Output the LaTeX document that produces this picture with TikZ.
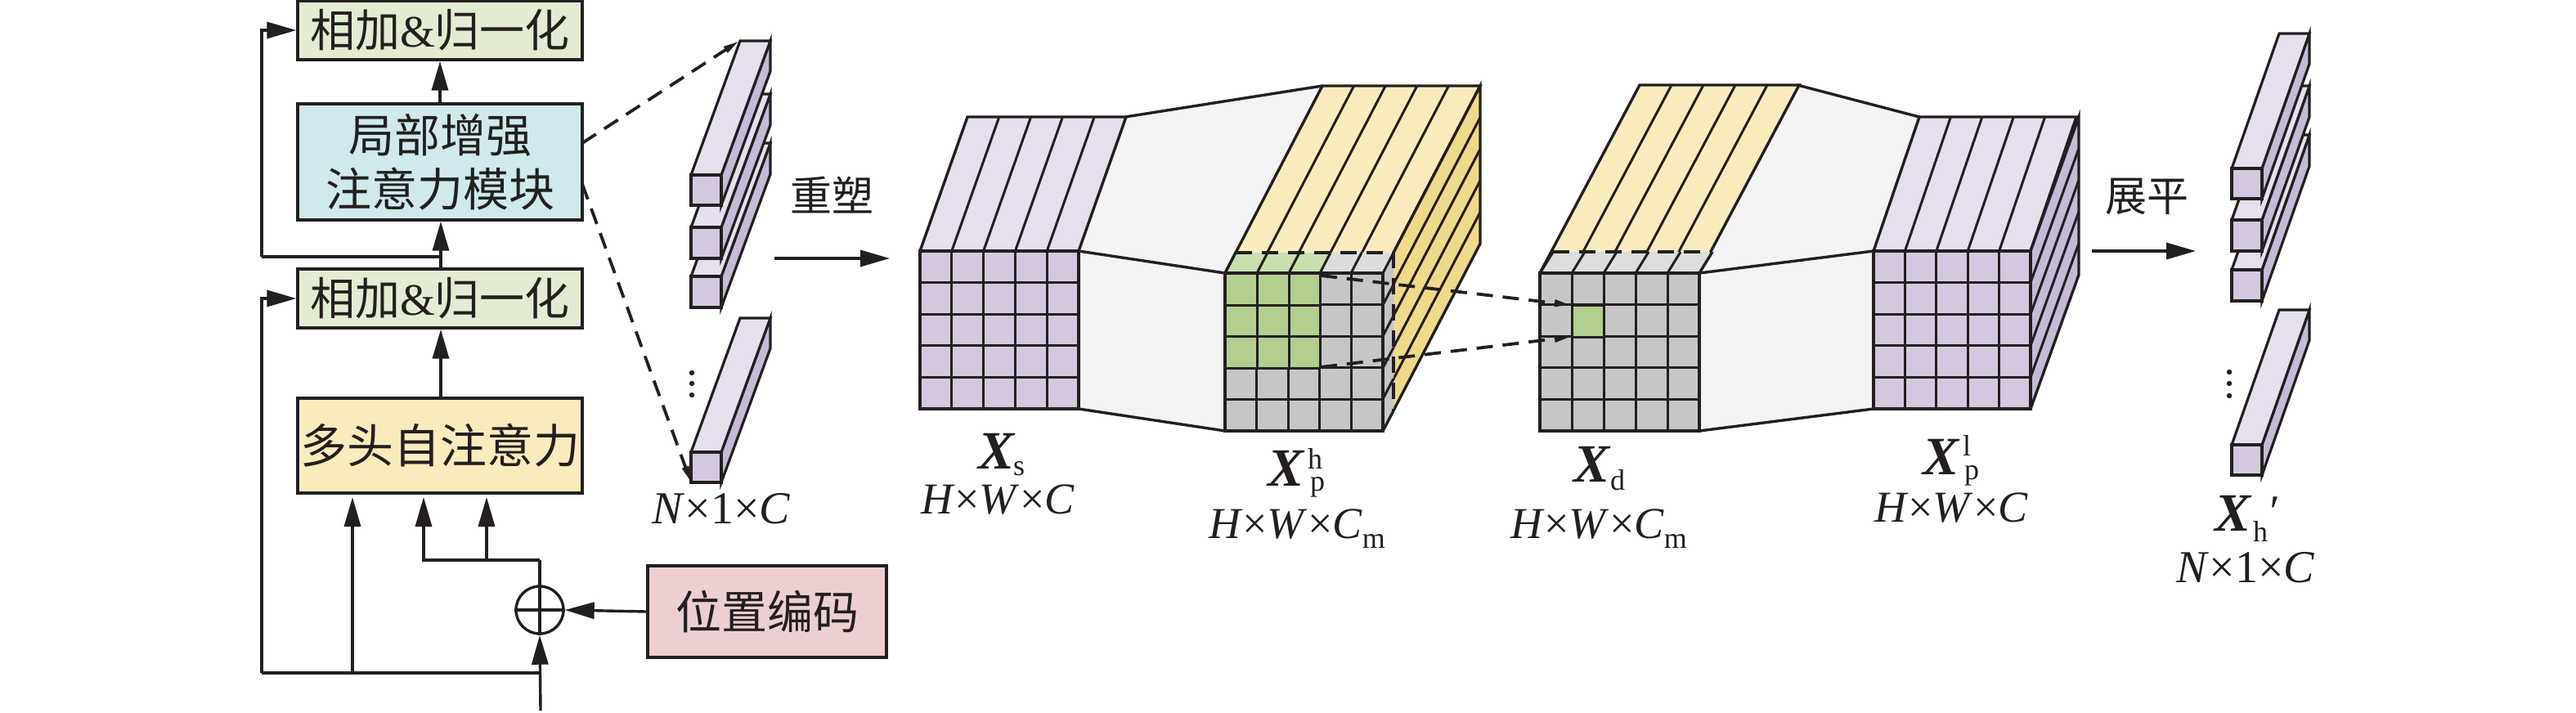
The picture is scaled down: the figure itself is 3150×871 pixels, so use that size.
\documentclass[tikz,border=0pt]{standalone}
\usepackage{fontspec}
\setmainfont{Liberation Serif}
\newfontfamily\cjk{Noto Sans CJK SC}
\usetikzlibrary{arrows.meta,calc}
\definecolor{pfront}{HTML}{D4C8DF}
\definecolor{ptop}{HTML}{E6DFEE}
\definecolor{pside}{HTML}{C5BBD9}
\definecolor{ytop}{HTML}{FAEBBD}
\definecolor{yside}{HTML}{F1D98A}
\definecolor{gfront}{HTML}{C6C6C6}
\definecolor{gband}{HTML}{DDDDDD}
\definecolor{gcell}{HTML}{B2CF90}
\definecolor{gcband}{HTML}{C9DFB0}
\definecolor{conn}{HTML}{F3F3F3}
\definecolor{bgreen}{HTML}{E2ECD2}
\definecolor{bteal}{HTML}{CFE9EC}
\definecolor{byellow}{HTML}{FAEBBD}
\definecolor{bpink}{HTML}{EDCFD2}
\definecolor{ink}{HTML}{231F20}
\tikzset{
  every path/.style={line join=miter},
  ln/.style={draw=ink,line width=3.4pt},
  thin ln/.style={draw=ink,line width=3pt},
  box/.style={ln,inner sep=0pt,align=center,text=ink,font=\fontsize{56}{68}\selectfont\cjk},
  arr/.style={ln,-{Triangle[length=36pt,width=20pt]}},
  plain/.style={ln},
  dash ln/.style={draw=ink,line width=3.8pt,dash pattern=on 20pt off 12pt},
  dash arr/.style={dash ln,-{Triangle[length=20pt,width=8pt,sep=0pt]}},
  txt/.style={inner sep=0pt,text=ink,font=\fontsize{51}{60}\selectfont\cjk},
  lab/.style={inner sep=0pt,text=ink,font=\fontsize{54}{60}\selectfont},
  nlab/.style={inner sep=0pt,text=ink,font=\fontsize{56}{60}\selectfont},
  bigx/.style={inner sep=0pt,text=ink,font=\fontsize{66}{66}\selectfont\bfseries\itshape},
  subs/.style={inner sep=0pt,text=ink,font=\fontsize{36}{40}\selectfont},
}
% x y w h : front grid
\newcommand\frontgrid[5]{%
  \path[fill=#5] (#1,#2) rectangle ({#1+#3},{#2+#4});
  \foreach \i in {1,...,4}{
    \draw[thin ln] ({#1+\i*#3/5},#2) -- ({#1+\i*#3/5},{#2+#4});
    \draw[thin ln] (#1,{#2+\i*#4/5}) -- ({#1+#3},{#2+\i*#4/5});
  }
  \draw[ln] (#1,#2) rectangle ({#1+#3},{#2+#4});
}
% x y w dx dy col : top face with stripes
\newcommand\topface[6]{%
  \path[fill=#6] (#1,#2) -- ({#1+#3},#2) -- ({#1+#3+#4},{#2+#5}) -- ({#1+#4},{#2+#5}) -- cycle;
  \foreach \i in {1,...,4}{
    \draw[thin ln] ({#1+\i*#3/5},#2) -- ({#1+\i*#3/5+#4},{#2+#5});
  }
  \draw[ln] (#1,#2) -- ({#1+#4},{#2+#5}) -- ({#1+#3+#4},{#2+#5}) -- ({#1+#3},#2);
}
% x(right edge) y h dx dy col : side face with stripes
\newcommand\sideface[6]{%
  \path[fill=#6] (#1,#2) -- ({#1+#4},{#2+#5}) -- ({#1+#4},{#2+#5+#3}) -- (#1,{#2+#3}) -- cycle;
  \foreach \i in {1,...,4}{
    \draw[thin ln] (#1,{#2+\i*#3/5}) -- ({#1+#4},{#2+#5+\i*#3/5});
  }
  \draw[ln] (#1,#2) -- ({#1+#4},{#2+#5}) -- ({#1+#4},{#2+#5+#3}) -- (#1,{#2+#3});
}
% x y w h dx dy : token bar
\newcommand\tokbar[6]{%
  \path[fill=pside,draw=ink,line width=3.2pt] ({#1+#3},#2) -- ({#1+#3+#5},{#2+#6}) -- ({#1+#3+#5},{#2+#6+#4}) -- ({#1+#3},{#2+#4}) -- cycle;
  \path[fill=ptop,draw=ink,line width=3.2pt] (#1,#2) -- ({#1+#5},{#2+#6}) -- ({#1+#3+#5},{#2+#6}) -- ({#1+#3},#2) -- cycle;
  \path[fill=pfront,draw=ink,line width=3.2pt] (#1,#2) rectangle ({#1+#3},{#2+#4});
}
\newcommand\dimHWC{\textit{H}×\textit{W}×\textit{C}}
\newcommand\dimHWCm{\textit{H}×\textit{W}×\textit{C}\raisebox{-12pt}{\fontsize{36}{40}\selectfont m}}
\newcommand\dimNOC{\textit{N}×1×\textit{C}}
\begin{document}
\begin{tikzpicture}[x=1pt,y=-1pt]
\useasboundingbox[fill=white] (0,0) rectangle (3150,871);

% ---------- left block ----------
\node[box,fill=bgreen,minimum width=348pt,minimum height=72pt,font=\fontsize{55}{60}\selectfont\cjk] (addtop) at (538,37) {相加{\fontsize{55}{60}\selectfont\rmfamily\&}归一化};
\node[box,fill=bteal,minimum width=348pt,minimum height=142pt] (local) at (538,198) {局部增强\\[-2pt]注意力模块};
\node[box,fill=bgreen,minimum width=348pt,minimum height=72pt,font=\fontsize{55}{60}\selectfont\cjk] (addbot) at (538,365) {\raisebox{3pt}{相加{\fontsize{55}{60}\selectfont\rmfamily\&}归一化}};
\node[box,fill=byellow,minimum width=348pt,minimum height=116pt,font=\fontsize{57}{60}\selectfont\cjk] (mha) at (538,545) {\raisebox{3pt}{多头自注意力}};
\node[box,fill=bpink,minimum width=292pt,minimum height=112pt] (pos) at (938,748) {位置编码};
\node[draw=ink,line width=3.4pt,circle,minimum size=58pt,inner sep=0pt] (plus) at (660,746) {};
\draw[ln] (plus.north) -- (plus.south) (plus.west) -- (plus.east);

\coordinate (in) at (661,869);
\coordinate (base) at (661,823);
\coordinate (baseL) at (320,823);
\coordinate (c1) at (431,823);
\coordinate (c2) at (518,685);
\coordinate (c3) at (595,685);
\coordinate (c4) at (660,685);
\coordinate (skip) at (539,314);
\coordinate (skipL) at (320,314);

\draw[arr] (in) -- (plus.south);
\draw[arr] (pos.west) -- (plus.east);
\draw[plain] (base) -- (baseL);
\draw[arr] (baseL) |- (addbot.west);
\draw[arr] (c1) -- (c1 |- 0,608);
\draw[plain] (plus.north) -- (c4);
\draw[arr] (c4) -- (c2) -- (c2 |- 0,608);
\draw[arr] (c3) -- (c3 |- 0,608);
\draw[arr] (mha.north -| skip) -- (addbot.south -| skip);
\draw[arr] (addbot.north -| skip) -- (local.south -| skip);
\draw[plain] (skip) -- (skipL);
\draw[arr] (skipL) |- (addtop.west);
\draw[arr] (local.north) -- (addtop.south);

% ---------- left token bars ----------
\tokbar{845}{338}{37}{38}{60}{-163}
\tokbar{845}{278}{37}{38}{60}{-163}
\tokbar{845}{214}{37}{37}{60}{-164}
\tokbar{845}{553}{37}{37}{60}{-164}
\foreach \yy in {456,469,483} \fill[ink] (846,\yy) circle (3.2pt);
\coordinate (tok1) at (904,50);
\coordinate (tok4) at (845,590);
\coordinate (lo1) at (712,175);
\coordinate (lo2) at (712,225);
\draw[dash arr] (lo1) -- (tok1);
\draw[dash arr] (lo2) -- (tok4);
\node[nlab] (nlabA) at (882,622) {\dimNOC};

\node[txt] (reshape) at (1017,239) {重塑};
\coordinate (ra) at (947,316);
\coordinate (rb) at (1088,316);
\draw[arr] (ra) -- (rb);

% ---------- connectors between tensors ----------
\path[fill=conn] (1319,307) -- (1376,143) -- (1617,105) -- (1498,334) -- cycle;
\path[fill=conn] (1319,307) -- (1498,334) -- (1498,527) -- (1319,500) -- cycle;
\path[fill=conn] (2078,334) -- (2198,104) -- (2347,143) -- (2291,307) -- cycle;
\path[fill=conn] (2078,334) -- (2291,307) -- (2291,500) -- (2078,527) -- cycle;
\draw[ln] (1376,143) -- (1617,105);
\draw[ln] (1319,307) -- (1498,334);
\draw[ln] (1319,500) -- (1498,527);
\draw[ln] (2198,104) -- (2347,143);
\draw[ln] (2078,334) -- (2291,307);
\draw[ln] (2078,527) -- (2291,500);

% ---------- Xs ----------
\topface{1125}{307}{194}{58}{-164}{ptop}
\frontgrid{1125}{307}{194}{193}{pfront}
\node[bigx] (xs) at (1218,552) {X};
\node[subs] (xss) at (1246,573) {s};
\node[lab] (xsd) at (1220,611) {\dimHWC};

% ---------- Xp^h ----------
\topface{1498}{334}{193}{119}{-229}{ytop}
\sideface{1691}{334}{193}{119}{-229}{yside}
% slice
\path[fill=gfront] (1691,334) -- (1704,309) -- (1704,502) -- (1691,527) -- cycle;
\path[fill=gcband] (1498,334) -- (1511,309) -- (1627,309) -- (1614,334) -- cycle;
\path[fill=gband] (1614,334) -- (1627,309) -- (1704,309) -- (1691,334) -- cycle;
\foreach \xx in {1537,1576,1614,1652} \draw[thin ln] (\xx,334) -- ({\xx+13},309);
\draw[ln] (1498,334) -- (1511,309);
\foreach \yy in {334,373,411,450,488,527} \draw[thin ln] (1691,\yy) -- (1704,{\yy-25});
\draw[dash ln] (1511,309) -- (1704,309) -- (1704,502);
\frontgrid{1498}{334}{193}{193}{gfront}
\path[fill=gcell] (1498,334) rectangle (1614,450);
\foreach \xx in {1537,1576,1614} \draw[thin ln] (\xx,334) -- (\xx,450);
\foreach \yy in {373,411,450} \draw[thin ln] (1498,\yy) -- (1614,\yy);
\draw[ln] (1498,334) -- (1691,334);
\draw[ln] (1498,334) -- (1498,450);
\node[bigx] (xph) at (1572,573) {X};
\node[subs] (xphu) at (1608,561) {h};
\node[subs] (xphl) at (1611,596) {p};
\node[lab] (xphd) at (1586,647) {\dimHWCm};

% ---------- Xd ----------
\topface{1883}{334}{195}{122}{-230}{ytop}
\path[fill=gband] (1883,334) -- (1899,308) -- (2094,308) -- (2078,334) -- cycle;
\foreach \xx in {1922,1961,2000,2039} \draw[thin ln] (\xx,334) -- ({\xx+16},308);
\draw[ln] (1883,334) -- (1899,308);
\draw[ln] (2078,334) -- (2094,308);
\draw[dash ln] (1899,308) -- (2094,308);
\frontgrid{1883}{334}{195}{193}{gfront}
\path[fill=gcell] (1922,373) rectangle (1961,412);
\draw[thin ln] (1922,373) rectangle (1961,412);
\node[bigx] (xd) at (1946,568) {X};
\node[subs] (xdd) at (1978,587) {d};
\node[lab] (xdl) at (1955,647) {\dimHWCm};

% dashed links Xp^h -> Xd
\coordinate (pa) at (1615,337);
\coordinate (pb) at (1615,449);
\coordinate (da) at (1921,373);
\coordinate (db) at (1921,412);
\draw[dash arr] (pa) -- (da);
\draw[dash arr] (pb) -- (db);

% ---------- Xp^l ----------
\topface{2291}{307}{192}{56}{-164}{ptop}
\sideface{2483}{307}{193}{59}{-164}{pside}
\frontgrid{2291}{307}{192}{193}{pfront}
\node[bigx] (xpl) at (2373,559) {X};
\node[subs] (xplu) at (2405,545) {l};
\node[subs] (xpll) at (2411,582) {p};
\node[lab] (xpld) at (2386,621) {\dimHWC};

\node[txt] (flat) at (2625,240) {展平};
\coordinate (fa) at (2558,307);
\coordinate (fb) at (2685,307);
\draw[arr] (fa) -- (fb);

% ---------- right token bars ----------
\tokbar{2729}{330}{37}{38}{58}{-165}
\tokbar{2729}{269}{37}{38}{58}{-164}
\tokbar{2729}{206}{37}{37}{58}{-165}
\tokbar{2729}{544}{37}{37}{58}{-165}
\foreach \yy in {455,469,484} \fill[ink] (2726,\yy) circle (3.2pt);
\node[bigx] (xh) at (2730,628) {X};
\node[subs] (xhs) at (2764,650) {h};
\node[nlab,font=\fontsize{56}{60}\selectfont\itshape] (xhp) at (2779,626) {′};
\node[nlab] (nlabB) at (2746,694) {\dimNOC};
\end{tikzpicture}
\end{document}
